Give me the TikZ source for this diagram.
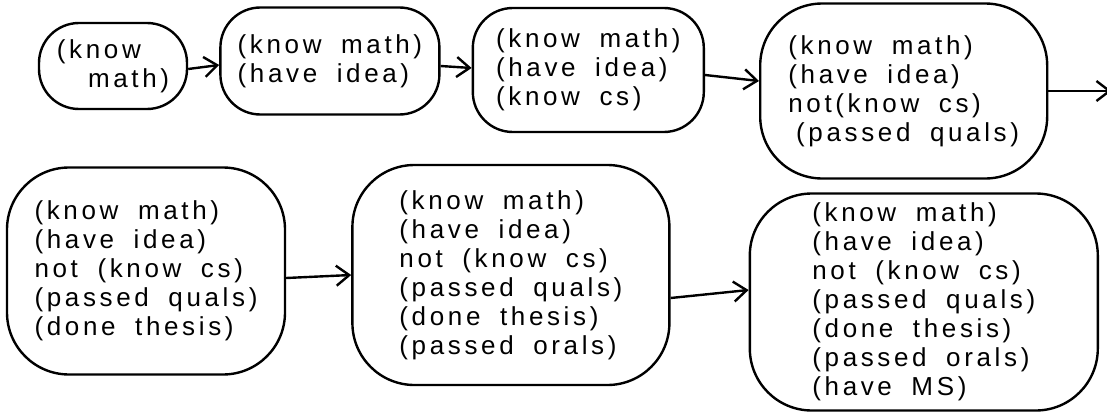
\documentclass[tikz,border=0pt]{standalone}
\usepackage{fontspec}
\setmainfont{Liberation Sans}[LetterSpace=14,WordSpace=1.8]
\usetikzlibrary{positioning,arrows.meta}

\begin{document}
\begin{tikzpicture}[x=1pt,y=1pt,>={Straight Barb[length=13pt,width=20pt]},line width=2.4pt,
  sit/.style={draw,rounded corners=40pt,align=left,inner sep=2pt,font=\fontsize{26}{29}\selectfont},
  bigsit/.style={sit,rounded corners=62pt}]
\useasboundingbox (0,0) rectangle (1107,-415);
% first row
\node[sit,minimum width=148pt,minimum height=86pt] (s0) at (113,-66) {(know\\\hspace{1.2em}math)};
\node[sit,minimum width=219pt,minimum height=107pt,right=31pt of s0,yshift=5pt] (s1) {(know math)\\(have idea)};
\node[sit,minimum width=231pt,minimum height=124pt,right=31pt of s1,yshift=-9pt] (s2) {(know math)\\(have idea)\\(know cs)};
\node[bigsit,minimum width=287pt,minimum height=175pt,right=54pt of s2,yshift=-21pt] (s3) {(know math)\\(have idea)\\not(know cs)\\\hspace{0.3em}(passed quals)};
\coordinate[right=63pt of s3] (exit);
\draw[->] ([yshift=-3pt]s0.east) -- ([yshift=-4pt]s1.west);
\draw[->] ([yshift=-5pt]s1.east) -- ([yshift=2pt]s2.west);
\draw[->] ([yshift=-5pt]s2.east) -- ([yshift=10pt]s3.west);
\draw[->] (s3.east) -- (exit);
% second row
\node[bigsit,minimum width=278pt,minimum height=207pt] (s4) at (146,-271) {(know math)\\(have idea)\\not (know cs)\\(passed quals)\\(done thesis)};
\node[bigsit,minimum width=317pt,minimum height=220pt,right=65pt of s4,yshift=-4pt] (s5) {(know math)\\(have idea)\\not (know cs)\\(passed quals)\\(done thesis)\\(passed orals)};
\node[bigsit,minimum width=348pt,minimum height=217pt,right=78pt of s5,yshift=-27pt] (s6) {(know math)\\(have idea)\\not (know cs)\\(passed quals)\\(done thesis)\\(passed orals)\\(have MS)};
\draw[->] ([yshift=-7pt]s4.east) -- (s5.west);
\draw[->] ([yshift=-23pt]s5.east) -- ([yshift=12pt]s6.west);
\end{tikzpicture}
\end{document}
